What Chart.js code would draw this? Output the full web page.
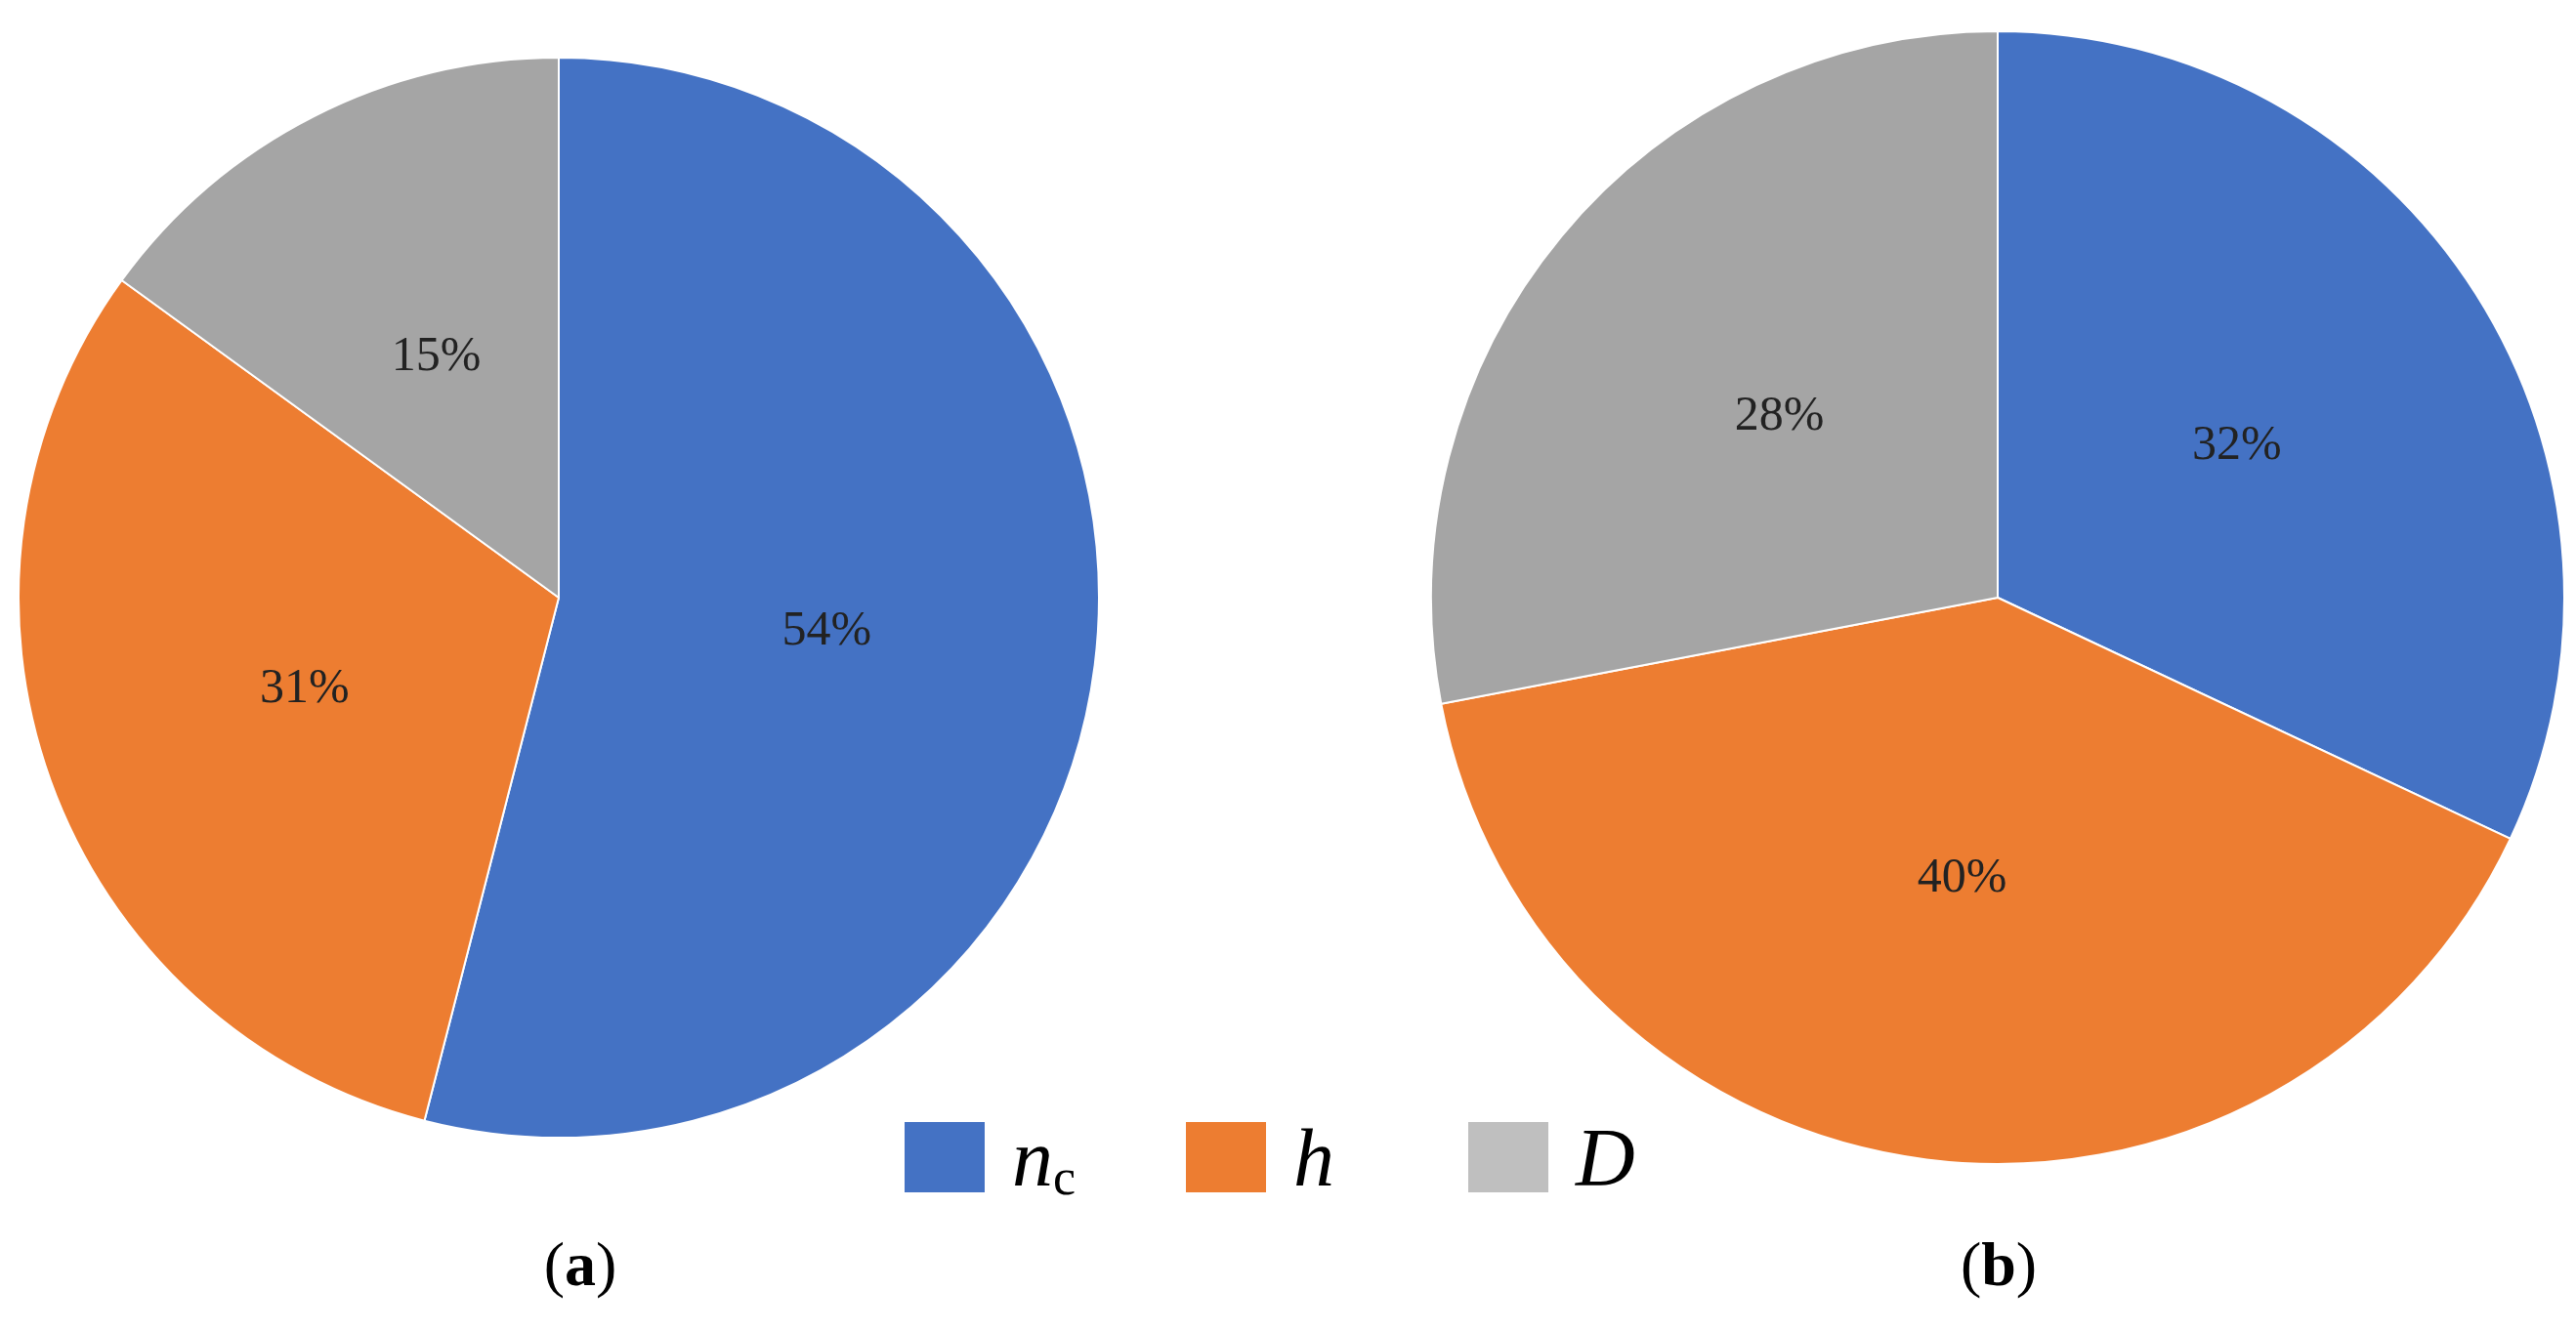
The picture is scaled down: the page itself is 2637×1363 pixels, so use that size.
<!DOCTYPE html>
<html><head><meta charset="utf-8">
<script src="https://cdn.jsdelivr.net/npm/chart.js@4"></script>
<style>
body{margin:0;background:#fff;width:2637px;height:1363px;position:relative;overflow:hidden;font-family:"Liberation Serif","DejaVu Serif",serif;}
canvas{position:absolute;}
.leg{position:absolute;top:1145px;height:80px;display:flex;align-items:center;font-size:84px;}
.box{display:inline-block;width:82px;height:72px;margin-right:28px;}
.lbl{position:absolute;top:1258px;font-size:64px;transform:translateX(-50%);}
</style></head><body>
<canvas id="a" width="1108" height="1108" style="left:18px;top:58px"></canvas>
<canvas id="b" width="1162" height="1162" style="left:1464px;top:31px"></canvas>
<div class="leg" style="left:926px"><span class="box" style="background:#4472C4"></span><i>n</i><span style="font-size:52px;margin-top:40px">c</span></div>
<div class="leg" style="left:1214px"><span class="box" style="background:#ED7D31"></span><i>h</i></div>
<div class="leg" style="left:1503px"><span class="box" style="background:#BFBFBF"></span><i>D</i></div>
<div class="lbl" style="left:594px">(<b>a</b>)</div>
<div class="lbl" style="left:2046px">(<b>b</b>)</div>
<script>
const categories=["nc","h","D"];
const valuesA=[54,31,15];
const valuesB=[32,40,28];
const colors=["#4472C4","#ED7D31","#A5A5A5"];
const pctPlugin={id:"pct",afterDatasetsDraw(chart){
  const ctx=chart.ctx,ds=chart.data.datasets[0];
  ctx.save();ctx.font='50px "Liberation Serif", serif';ctx.fillStyle="#222";
  ctx.textAlign="center";ctx.textBaseline="middle";
  chart.getDatasetMeta(0).data.forEach((el,i)=>{
    const p=el.tooltipPosition();ctx.fillText(ds.data[i]+"%",p.x,p.y);
  });ctx.restore();}};
function make(id,vals){
  new Chart(document.getElementById(id),{type:"pie",
    data:{labels:categories,datasets:[{data:vals,backgroundColor:colors,borderColor:"#fff",borderWidth:2}]},
    options:{responsive:false,animation:false,layout:{padding:0},
      plugins:{legend:{display:false},tooltip:{enabled:false}}},
    plugins:[pctPlugin]});
}
make("a",valuesA);make("b",valuesB);
</script></body></html>
